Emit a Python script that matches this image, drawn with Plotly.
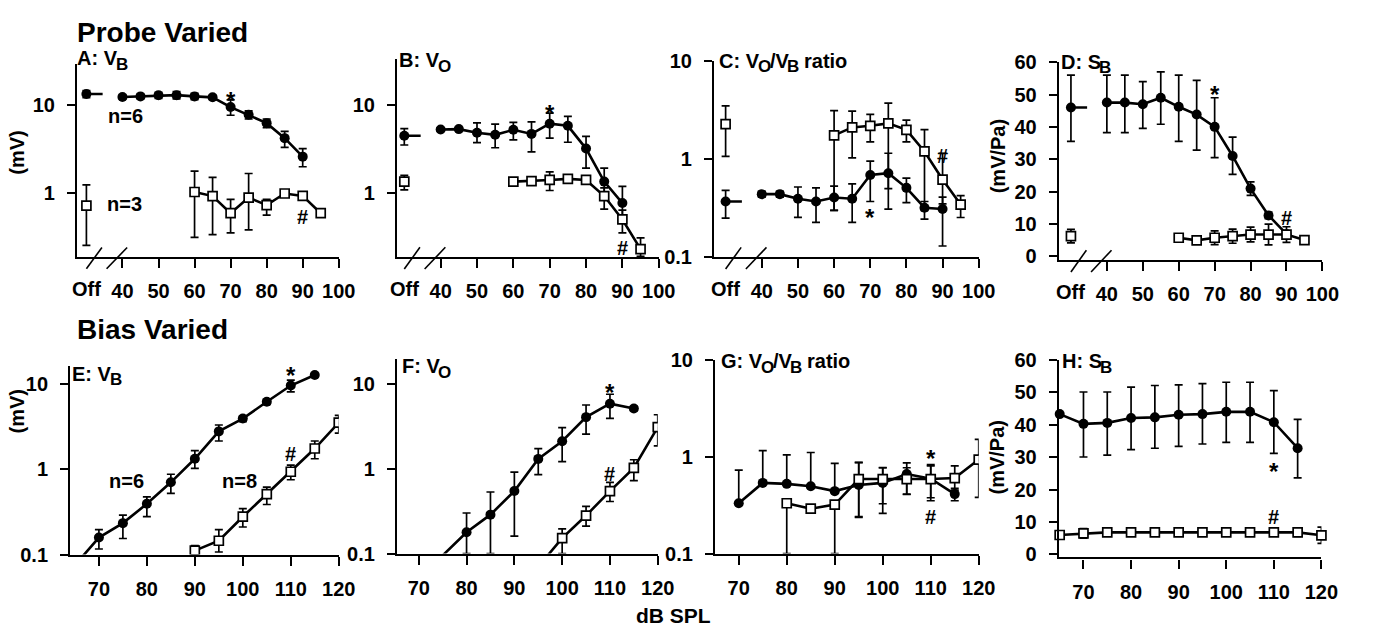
import math
import plotly.graph_objects as go

FIG_W, FIG_H = 1373, 636
OFF_X = 30        # plotting position used for the "Off" condition
STUB_LEN = 4.5    # short horizontal line drawn from the filled Off point
FONT = "Liberation Sans, Arial, sans-serif"

# ---------------- data: Probe varied (top row) ----------------
probe_fill_x = ["Off", 40, 45, 50, 55, 60, 65, 70, 75, 80, 85, 90]
probe_open_x = ["Off", 60, 65, 70, 75, 80, 85, 90, 95]
probe_ticks = [40, 50, 60, 70, 80, 90, 100]

A_fill_y = [13.2, 12.2, 12.4, 12.8, 12.8, 12.4, 12.1, 9.4, 7.7, 6.2, 4.2, 2.6]
A_fill_up = [1.2, 0.6, 0.7, 1.0, 1.2, 1.0, 0.6, 1.9, 0.8, 0.7, 0.8, 0.6]
A_fill_dn = [1.2, 0.6, 0.7, 1.0, 1.2, 1.0, 0.6, 1.8, 0.8, 0.7, 0.9, 0.6]
A_open_y = [0.73, 1.04, 0.935, 0.60, 0.90, 0.74, 1.0, 0.94, 0.60]
A_open_up = [0.52, 0.75, 0.585, 0.26, 0.78, 0.12, 0.03, 0.05, 0.0]
A_open_dn = [0.47, 0.72, 0.59, 0.24, 0.51, 0.17, 0.03, 0.05, 0.0]

B_fill_y = [4.46, 5.25, 5.3, 4.83, 4.57, 5.2, 4.68, 6.1, 5.77, 3.2, 1.36, 0.78]
B_fill_up = [0.9, 0.2, 0.2, 1.4, 1.45, 1.1, 1.7, 1.9, 1.6, 1.2, 0.57, 0.42]
B_fill_dn = [0.95, 0.2, 0.2, 1.1, 1.3, 1.2, 1.75, 1.9, 2.0, 1.27, 0.36, 0.27]
B_open_y = [1.36, 1.36, 1.38, 1.42, 1.46, 1.42, 0.935, 0.51, 0.236]
B_open_up = [0.24, 0.05, 0.05, 0.33, 0.05, 0.1, 0.22, 0.14, 0.08]
B_open_dn = [0.26, 0.05, 0.05, 0.34, 0.05, 0.1, 0.27, 0.15, 0.04]

C_fill_y = [0.37, 0.44, 0.44, 0.395, 0.37, 0.406, 0.395, 0.69, 0.72, 0.51, 0.32, 0.31]
C_fill_up = [0.11, 0.03, 0.03, 0.125, 0.14, 0.124, 0.165, 0.265, 0.43, 0.13, 0.05, 0.1]
C_fill_dn = [0.12, 0.03, 0.03, 0.14, 0.143, 0.106, 0.168, 0.32, 0.22, 0.15, 0.075, 0.18]
C_open_y = [2.28, 1.75, 2.11, 2.19, 2.32, 1.99, 1.2, 0.62, 0.344]
C_open_up = [1.22, 1.38, 0.98, 0.67, 1.41, 0.51, 0.8, 0.53, 0.08]
C_open_dn = [1.21, 1.45, 1.08, 0.69, 2.01, 0.49, 0.9, 0.27, 0.09]

D_fill_y = [46, 47.5, 47.5, 47, 49, 46.2, 43.8, 40, 31, 20.9, 12.6, 6.8]
D_fill_up = [10, 8.5, 8.5, 7, 8, 9.8, 10.6, 9, 5.8, 2.1, 1, 0]
D_fill_dn = [10.5, 9.3, 9.3, 7.5, 8.2, 10.7, 11, 9.5, 5.7, 2.1, 1, 0]
D_open_y = [6.2, 5.7, 4.9, 5.7, 6.2, 6.7, 6.7, 6.7, 5.0]
D_open_err = [2.1, 0.4, 0.5, 2.1, 2.2, 2.3, 3.2, 2.4, 1.0]

# ---------------- data: Bias varied (bottom row) ----------------
bias_ticks = [70, 80, 90, 100, 110, 120]

E_fill_x = [65, 70, 75, 80, 85, 90, 95, 100, 105, 110, 115]
E_fill_y = [0.075, 0.158, 0.233, 0.392, 0.70, 1.32, 2.76, 3.9, 6.13, 9.5, 12.6]
E_fill_up = [0, 0.038, 0.056, 0.082, 0.17, 0.32, 0.52, 0.3, 0.4, 1.5, 0.5]
E_fill_dn = [0, 0.042, 0.079, 0.115, 0.18, 0.30, 0.63, 0.3, 0.4, 1.5, 0.5]
E_open_x = [90, 95, 100, 105, 110, 115, 120]
E_open_y = [0.111, 0.145, 0.277, 0.508, 0.93, 1.74, 3.49]
E_open_up = [0.016, 0.051, 0.067, 0.107, 0.18, 0.39, 0.76]
E_open_dn = [0.011, 0.038, 0.067, 0.123, 0.18, 0.42, 0.85]

F_fill_x = [75, 80, 85, 90, 95, 100, 105, 110, 115]
F_fill_y = [0.095, 0.178, 0.287, 0.544, 1.30, 2.1, 4.03, 5.8, 5.1]
F_fill_up = [0, 0.122, 0.243, 0.366, 0.42, 0.93, 1.57, 1.7, 0.3]
F_fill_dn = [0, 0.078, 0.187, 0.384, 0.45, 0.89, 1.48, 1.9, 0.3]
F_open_x = [95, 100, 105, 110, 115, 120]
F_open_y = [0.07, 0.152, 0.28, 0.544, 1.02, 3.08]
F_open_up = [0, 0.043, 0.08, 0.146, 0.25, 1.22]
F_open_dn = [0, 0.052, 0.07, 0.134, 0.3, 1.23]

G_fill_x = [70, 75, 80, 85, 90, 95, 100, 105, 110, 115]
G_fill_y = [0.33, 0.535, 0.523, 0.495, 0.44, 0.51, 0.535, 0.66, 0.59, 0.41]
G_fill_up = [0.395, 0.615, 0.517, 0.605, 0.41, 0.36, 0.235, 0.2, 0.21, 0.06]
G_fill_dn = [0, 0, 0, 0, 0, 0.27, 0.275, 0.25, 0.24, 0.06]
G_open_x = [80, 85, 90, 95, 100, 105, 110, 115, 120]
G_open_y = [0.33, 0.29, 0.32, 0.586, 0.586, 0.586, 0.586, 0.6, 0.93]
G_open_up = [0, 0, 0, 0.28, 0.18, 0.18, 0.24, 0.2, 0.57]
G_open_dn = [0.23, 0, 0.22, 0.35, 0.26, 0.18, 0.21, 0.15, 0.55]

H_fill_x = [65, 70, 75, 80, 85, 90, 95, 100, 105, 110, 115]
H_fill_y = [43.2, 40.2, 40.5, 42, 42.2, 43, 43.2, 43.9, 43.9, 40.7, 32.7]
H_fill_up = [0, 9.8, 9.5, 9.5, 9.8, 9.2, 9.4, 9.1, 9.1, 9.7, 8.9]
H_fill_dn = [0, 10.2, 9.9, 9.7, 9.5, 9.7, 9.2, 9.4, 9.4, 9.6, 9.1]
H_open_x = [65, 70, 75, 80, 85, 90, 95, 100, 105, 110, 115, 120]
H_open_y = [6.0, 6.5, 6.8, 6.8, 6.8, 6.8, 6.8, 6.8, 6.8, 6.8, 6.8, 5.9]
H_open_err = [0.5, 1.5, 1.0, 1.0, 1.0, 1.0, 1.0, 1.0, 1.0, 1.0, 1.2, 2.5]

# ---------------- layout of panels (pixel boxes) ----------------
panels = {
    1: dict(px=(78, 343), xr=(27.4, 100), py=(55, 255), yr=(-0.717, 1.457), log=True, yt=[1, 10], xt=probe_ticks, probe=True),
    2: dict(px=(402, 667), xr=(28.0, 100), py=(50, 255), yr=(-0.717, 1.51), log=True, yt=[1, 10], xt=probe_ticks, probe=True),
    3: dict(px=(723, 991), xr=(26.8, 100), py=(52, 255), yr=(-1, 1), log=True, yt=[0.1, 1, 10], xt=probe_ticks, probe=True),
    4: dict(px=(1072, 1339), xr=(26.6, 100), py=(53, 258), yr=(-1.2, 60), log=False, yt=[0, 10, 20, 30, 40, 50, 60], xt=probe_ticks, probe=True),
    5: dict(px=(71, 343), xr=(64.0, 120), py=(368, 563), yr=(-1, 1.203), log=True, yt=[0.1, 1, 10], xt=bias_ticks, probe=False),
    6: dict(px=(402, 666), xr=(65.45, 120), py=(360, 562), yr=(-1, 1.295), log=True, yt=[0.1, 1, 10], xt=bias_ticks, probe=False),
    7: dict(px=(724, 991), xr=(65.06, 120), py=(361, 562), yr=(-1, 1), log=True, yt=[0.1, 1, 10], xt=bias_ticks, probe=False),
    8: dict(px=(1072, 1338), xr=(64.8, 120), py=(361, 566), yr=(-0.9, 60), log=False, yt=[0, 10, 20, 30, 40, 50, 60], xt=bias_ticks, probe=False),
}

fig = go.Figure()


def ax_names(n):
    return ("x" if n == 1 else f"x{n}"), ("y" if n == 1 else f"y{n}")


def fmt(v):
    return ("%g" % v)


def add_series(n, xs, ys, up, dn, filled, clip=True):
    xa, ya = ax_names(n)
    p = panels[n]
    ymin = 10 ** p["yr"][0] if p["log"] else p["yr"][0]
    pts = [((OFF_X if x == "Off" else x), y, u, d, x == "Off") for x, y, u, d in zip(xs, ys, up, dn)]
    main = [q for q in pts if not q[4]]
    off = [q for q in pts if q[4]]
    line = dict(color="black", width=2.6)
    fig.add_trace(go.Scatter(x=[q[0] for q in main], y=[q[1] for q in main], mode="lines",
                             line=line, xaxis=xa, yaxis=ya, hoverinfo="skip"))
    if filled:
        for q in off:
            fig.add_trace(go.Scatter(x=[q[0], q[0] + STUB_LEN], y=[q[1], q[1]], mode="lines",
                                     line=line, xaxis=xa, yaxis=ya, hoverinfo="skip"))
    vis = [q for q in off + main if q[1] >= ymin]
    if filled:
        marker = dict(symbol="circle", size=10, color="black", line=dict(width=0))
    else:
        marker = dict(symbol="square", size=9, color="white", line=dict(color="black", width=1.7))
    fig.add_trace(go.Scatter(
        x=[q[0] for q in vis], y=[q[1] for q in vis], mode="markers", marker=marker,
        error_y=dict(type="data", symmetric=False, array=[q[2] for q in vis],
                     arrayminus=[q[3] for q in vis], color="black", thickness=1.7, width=4),
        xaxis=xa, yaxis=ya, cliponaxis=clip, hoverinfo="skip"))


add_series(1, probe_fill_x, A_fill_y, A_fill_up, A_fill_dn, True)
add_series(1, probe_open_x, A_open_y, A_open_up, A_open_dn, False)
add_series(2, probe_fill_x, B_fill_y, B_fill_up, B_fill_dn, True)
add_series(2, probe_open_x, B_open_y, B_open_up, B_open_dn, False)
add_series(3, probe_fill_x, C_fill_y, C_fill_up, C_fill_dn, True)
add_series(3, probe_open_x, C_open_y, C_open_up, C_open_dn, False)
add_series(4, probe_fill_x, D_fill_y, D_fill_up, D_fill_dn, True)
add_series(4, probe_open_x, D_open_y, D_open_err, D_open_err, False)
add_series(5, E_fill_x, E_fill_y, E_fill_up, E_fill_dn, True)
add_series(5, E_open_x, E_open_y, E_open_up, E_open_dn, False)
add_series(6, F_fill_x, F_fill_y, F_fill_up, F_fill_dn, True)
add_series(6, F_open_x, F_open_y, F_open_up, F_open_dn, False)
add_series(7, G_fill_x, G_fill_y, G_fill_up, G_fill_dn, True)
add_series(7, G_open_x, G_open_y, G_open_up, G_open_dn, False)
add_series(8, H_fill_x, H_fill_y, H_fill_up, H_fill_dn, True, clip=False)
add_series(8, H_open_x, H_open_y, H_open_err, H_open_err, False, clip=False)

# ---------------- axes ----------------
tickfont = dict(family=FONT, size=20, color="black", weight="bold")
layout = {}
shapes = []
annotations = []
for n, p in panels.items():
    sfx = "" if n == 1 else str(n)
    xa, ya = ax_names(n)
    layout["xaxis" + sfx] = dict(
        domain=[p["px"][0] / FIG_W, p["px"][1] / FIG_W], range=list(p["xr"]), anchor=ya,
        showline=True, linecolor="black", linewidth=2.2, ticks="outside", ticklen=9, tickwidth=2,
        tickcolor="black", tickvals=p["xt"], ticktext=[fmt(v) for v in p["xt"]], tickfont=tickfont,
        showgrid=False, zeroline=False, ticklabelstandoff=6, fixedrange=True)
    layout["yaxis" + sfx] = dict(
        domain=[1 - p["py"][1] / FIG_H, 1 - p["py"][0] / FIG_H], range=list(p["yr"]), anchor=xa,
        type="log" if p["log"] else "linear",
        showline=True, linecolor="black", linewidth=2.2, ticks="outside", ticklen=8, tickwidth=2,
        tickcolor="black", tickvals=p["yt"], ticktext=[fmt(v) for v in p["yt"]], tickfont=tickfont,
        showgrid=False, zeroline=False, ticklabelstandoff=8, fixedrange=True)
    if p["probe"]:
        # axis-break marks and the "Off" label
        for x0, x1 in [(30.0, 34.3), (35.6, 41.3)]:
            shapes.append(dict(type="line", xref=xa, yref=ya + " domain", x0=x0, x1=x1,
                               y0=-0.06, y1=0.05, line=dict(color="black", width=1.6)))
        annotations.append(dict(text="Off", x=OFF_X, xref=xa, y=0, yref=ya + " domain",
                                yanchor="top", yshift=-19, showarrow=False, font=tickfont))

# Arial/Liberation Sans Bold advance widths (1/1000 em) for the panel titles
BOLD_W = {'A': 722, 'B': 722, 'C': 722, 'D': 722, 'E': 667, 'F': 611, 'G': 778, 'H': 722,
          'O': 778, 'S': 667, 'V': 667, ':': 333, ' ': 278, '/': 278, 'r': 389, 'a': 556,
          't': 333, 'i': 278, 'o': 611}
MAIN_SIZE, SUB_SIZE, SUB_DROP = 20, 17, 6


def pan_title(parts, x, y):
    """parts: list of (text, is_subscript); drawn piece by piece so subscripts stay large."""
    cur = x
    for txt, is_sub in parts:
        size = SUB_SIZE if is_sub else MAIN_SIZE
        lead = len(txt) - len(txt.lstrip(" "))
        cur += lead * BOLD_W[' '] * size / 1000.0
        body = txt.strip(" ")
        annotations.append(dict(text=body, x=cur / FIG_W, y=1 - (y + (SUB_DROP if is_sub else 0)) / FIG_H,
                                xref="paper", yref="paper", xanchor="left", yanchor="middle",
                                showarrow=False, borderpad=0,
                                font=dict(family=FONT, size=size, color="black", weight="bold")))
        cur += sum(BOLD_W[c] for c in body) * size / 1000.0 - 1


pan_title([("A: V", False), ("B", True)], 77, 49)
pan_title([("B: V", False), ("O", True)], 403, 51)
pan_title([("C: V", False), ("O", True), ("/V", False), ("B", True), (" ratio", False)], 727, 52)
pan_title([("D: S", False), ("B", True)], 1073, 53)
pan_title([("E: V", False), ("B", True)], 72, 376)
pan_title([("F: V", False), ("O", True)], 406, 368)
pan_title([("G: V", False), ("O", True), ("/V", False), ("B", True), (" ratio", False)], 729, 363)
pan_title([("H: S", False), ("B", True)], 1074, 363)


def free_text(txt, x, y, size=20, angle=0, anchor="center"):
    annotations.append(dict(text=txt, x=x / FIG_W, y=1 - y / FIG_H, xref="paper", yref="paper",
                            xanchor=anchor, yanchor="middle", showarrow=False, textangle=angle,
                            font=dict(family=FONT, size=size, color="black", weight="bold")))


free_text("Probe Varied", 76, 22, size=28, anchor="left")
free_text("Bias Varied", 76, 330, size=28, anchor="left")
free_text("n=6", 127, 109)
free_text("n=3", 126, 200)
free_text("n=6", 128, 487)
free_text("n=8", 243, 487)
free_text("(mV)", 17, 147, angle=-90)
free_text("(mV)", 17, 415, angle=-90)
free_text("(mV/Pa)", 1010, 150, angle=-90)
free_text("(mV/Pa)", 1010, 462, angle=-90)
free_text("dB SPL", 682, 626, size=21)

# significance markers, anchored on the data point they refer to
sig = [
    (1, "*", probe_fill_x, A_fill_y, 70, 7), (1, "#", probe_open_x, A_open_y, 90, -21),
    (2, "*", probe_fill_x, B_fill_y, 70, 10), (2, "#", probe_open_x, B_open_y, 90, -29),
    (3, "*", probe_fill_x, C_fill_y, 70, -43), (3, "#", probe_open_x, C_open_y, 90, 24),
    (4, "*", probe_fill_x, D_fill_y, 70, 32), (4, "#", probe_open_x, D_open_y, 90, 17),
    (5, "*", E_fill_x, E_fill_y, 110, 10), (5, "#", E_open_x, E_open_y, 110, 18),
    (6, "*", F_fill_x, F_fill_y, 110, 11), (6, "#", F_open_x, F_open_y, 110, 17),
    (7, "*", G_fill_x, G_fill_y, 110, 20), (7, "#", G_open_x, G_open_y, 110, -38),
    (8, "*", H_fill_x, H_fill_y, 110, -49), (8, "#", H_open_x, H_open_y, 110, 15),
]
for n, s, xs, ys, lvl, shift in sig:
    xa, ya = ax_names(n)
    v = ys[xs.index(lvl)]
    yv = math.log10(v) if panels[n]["log"] else v
    annotations.append(dict(text=s, x=lvl, y=yv, xref=xa, yref=ya, yshift=shift, showarrow=False,
                            font=dict(family=FONT, size=24 if s == "*" else 20, color="black",
                                      weight="bold")))

fig.update_layout(
    width=FIG_W, height=FIG_H, margin=dict(l=0, r=0, t=0, b=0),
    paper_bgcolor="white", plot_bgcolor="white", showlegend=False,
    font=dict(family=FONT, size=20, color="black", weight="bold"),
    shapes=shapes, annotations=annotations, **layout)

fig.write_html("out.html", config={"displayModeBar": False},
               post_script="document.body.style.margin='0';document.body.style.overflow='hidden';")
